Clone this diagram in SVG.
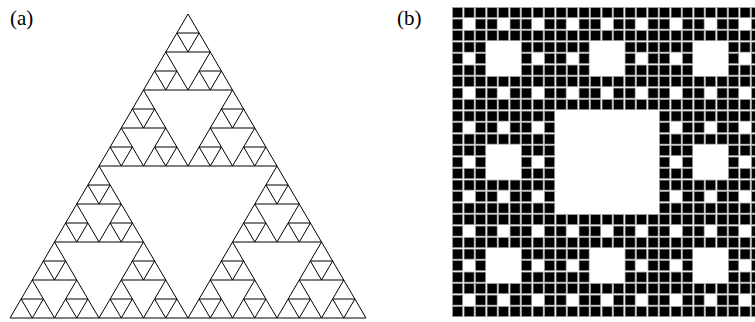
<svg xmlns="http://www.w3.org/2000/svg" xmlns:xlink="http://www.w3.org/1999/xlink" width="755" height="322" viewBox="0 0 755 322">
<style>
.lbl{font-family:"Liberation Serif","Times New Roman",serif;font-size:21px;fill:#000}
.tri{fill:none;stroke:#000;stroke-width:1;stroke-linejoin:miter}
.cell{fill:#000;stroke:#999;stroke-width:0.7}
</style>
<defs>
<path id="t0" class="tri" d="M0,0 L-11.125,19 L11.125,19 Z"/>
<g id="t1"><use xlink:href="#t0"/><use xlink:href="#t0" x="-11.125" y="19"/><use xlink:href="#t0" x="11.125" y="19"/></g>
<g id="t2"><use xlink:href="#t1"/><use xlink:href="#t1" x="-22.25" y="38"/><use xlink:href="#t1" x="22.25" y="38"/></g>
<g id="t3"><use xlink:href="#t2"/><use xlink:href="#t2" x="-44.5" y="76"/><use xlink:href="#t2" x="44.5" y="76"/></g>
<g id="t4"><use xlink:href="#t3"/><use xlink:href="#t3" x="-89" y="152"/><use xlink:href="#t3" x="89" y="152"/></g>
<rect id="c0" class="cell" x="0.6" y="0.6" width="10" height="10"/>
<g id="c1">
<use xlink:href="#c0"/><use xlink:href="#c0" x="11.5"/><use xlink:href="#c0" x="23"/>
<use xlink:href="#c0" y="11.5"/><use xlink:href="#c0" x="23" y="11.5"/>
<use xlink:href="#c0" y="23"/><use xlink:href="#c0" x="11.5" y="23"/><use xlink:href="#c0" x="23" y="23"/>
</g>
<g id="c2">
<use xlink:href="#c1"/><use xlink:href="#c1" x="34.5"/><use xlink:href="#c1" x="69"/>
<use xlink:href="#c1" y="34.5"/><use xlink:href="#c1" x="69" y="34.5"/>
<use xlink:href="#c1" y="69"/><use xlink:href="#c1" x="34.5" y="69"/><use xlink:href="#c1" x="69" y="69"/>
</g>
</defs>
<rect width="755" height="322" fill="#fff"/>
<g id="labels">
<text class="lbl" x="10" y="25">(a)</text>
<text class="lbl" x="397" y="25">(b)</text>
</g>
<g id="sierpinski-triangle" transform="translate(188,14)">
<use xlink:href="#t4"/>
</g>
<g id="sierpinski-carpet" transform="translate(452,7)">
<use xlink:href="#c2"/><use xlink:href="#c2" x="103.5"/><use xlink:href="#c2" x="207"/>
<use xlink:href="#c2" y="103.5"/><use xlink:href="#c2" x="207" y="103.5"/>
<use xlink:href="#c2" y="207"/><use xlink:href="#c2" x="103.5" y="207"/><use xlink:href="#c2" x="207" y="207"/>
</g>
</svg>
